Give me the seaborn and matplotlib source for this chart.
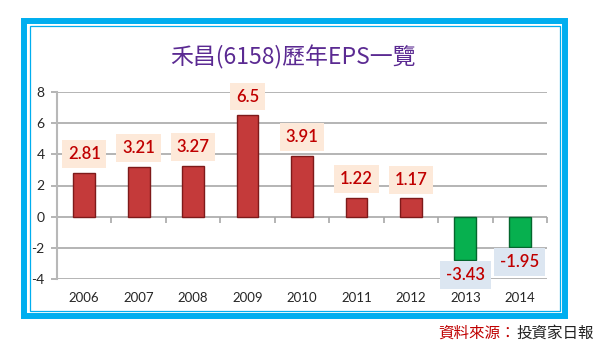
import numpy as np
import pandas as pd
import matplotlib
matplotlib.use("Agg")
import matplotlib.pyplot as plt
from matplotlib.patches import Rectangle
import seaborn as sns

# -------------------------------
# Data
# -------------------------------
years = ['2006', '2007', '2008', '2009', '2010', '2011', '2012', '2013', '2014']
# bar heights as drawn in the picture (the 2013 bar is drawn shorter than its label)
eps = [2.81, 3.21, 3.27, 6.5, 3.91, 1.22, 1.17, -2.75, -1.95]
eps_labels = ['2.81', '3.21', '3.27', '6.5', '3.91', '1.22', '1.17', '-3.43', '-1.95']
y_ticks = [-4, -2, 0, 2, 4, 6, 8]

title = '禾昌(6158)歷年EPS一覽'
source_red = '資料來源：'
source_black = '投資家日報'

df = pd.DataFrame({'Year': years, 'EPS': eps})
df['Sign'] = np.where(df['EPS'] >= 0, 'pos', 'neg')

# -------------------------------
# Style
# -------------------------------
sns.set_style("white")
plt.rcParams['font.family'] = ['Lato', 'Noto Sans CJK TC', 'DejaVu Sans']
cjk = ['Noto Sans CJK TC', 'DejaVu Sans']

W, H = 600, 353
fig = plt.figure(figsize=(6.0, 3.53), dpi=100)
ax = fig.add_axes([57 / W, 1 - 279 / H, 490 / W, 187 / H])

bar_colors = {'pos': '#c43a3a', 'neg': '#07b04f'}
edge_colors = {'pos': '#7e1a1a', 'neg': '#04662d'}

sns.barplot(data=df, x='Year', y='EPS', hue='Sign', palette=bar_colors,
            dodge=False, width=0.4, legend=False, ax=ax, saturation=1)

for bar_cont in ax.containers:
    for patch in bar_cont:
        key = 'pos' if patch.get_height() >= 0 else 'neg'
        patch.set_edgecolor(edge_colors[key])
        patch.set_linewidth(1.0)

ax.set_ylim(-4, 8)
ax.set_xlim(-0.5, len(years) - 0.5)
ax.set_yticks(y_ticks)
ax.set_yticklabels([str(t) for t in y_ticks], fontsize=10)
ax.set_xlabel('')
ax.set_ylabel('')
ax.yaxis.grid(True, color='#a8a8a8', linewidth=1.2)
ax.set_axisbelow(True)

for s in ['top', 'right', 'bottom']:
    ax.spines[s].set_visible(False)
ax.spines['left'].set_color('#b8b8b8')
ax.spines['left'].set_linewidth(1.5)
ax.tick_params(axis='y', length=4, color='#a8a8a8', width=1.2, pad=5, left=True)
ax.tick_params(axis='x', length=0, labelsize=9.5, pad=9)

# category axis crossing at zero with ticks between categories
sec = ax.secondary_xaxis(4 / 12)
sec.set_xticks(np.arange(len(years) + 1) - 0.5)
sec.set_xticklabels([])
sec.tick_params(axis='x', direction='out', length=4, color='#a8a8a8', width=1.2)
sec.spines['bottom'].set_visible(False)

# value labels
for i, (v, lab) in enumerate(zip(eps, eps_labels)):
    if v >= 0:
        ax.annotate(lab, (i, v), xytext=(0, 13.5), textcoords='offset points',
                    ha='center', va='center', fontsize=12, color='#c00000',
                    fontweight='semibold',
                    bbox=dict(boxstyle='square,pad=0.35', fc='#fde9d9', ec='none'))
    else:
        ax.annotate(lab, (i, v), xytext=(0, -11), textcoords='offset points',
                    ha='center', va='center', fontsize=12, color='#c00000',
                    fontweight='semibold',
                    bbox=dict(boxstyle='square,pad=0.35', fc='#dce6f1', ec='none'))

# title and source
fig.text(293 / W, 1 - 57 / H, title, ha='center', va='center', fontsize=16.5,
         color='#5b2a92', family=cjk, fontweight='medium')
fig.text(516 / W, 1 - 333 / H, source_red, ha='right', va='center', fontsize=11.2,
         color='#c00000', family=cjk)
fig.text(516 / W, 1 - 333 / H, source_black, ha='left', va='center', fontsize=11.2,
         color='#222222', family=cjk)

# blue frame
fig.patches.append(Rectangle((24 / W, 1 - 316 / H), 541 / W, 295 / H,
                             transform=fig.transFigure, fill=False,
                             ec='#00aeef', lw=4.3))
fig.patches.append(Rectangle((29.5 / W, 1 - 311 / H), 530 / W, 285 / H,
                             transform=fig.transFigure, fill=False,
                             ec='#00aeef', lw=0.9))

fig.savefig("out.png", dpi=100)
